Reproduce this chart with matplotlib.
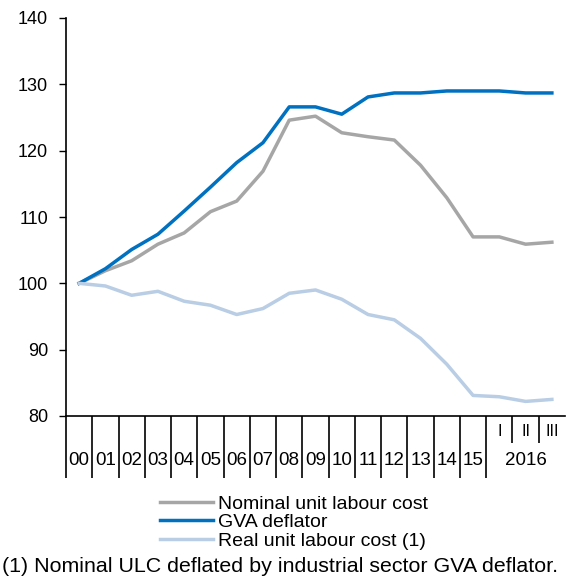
import matplotlib
matplotlib.use("Agg")
import matplotlib.pyplot as plt

plt.rcParams['font.family'] = ['Liberation Sans', 'DejaVu Sans']

# categories: annual 2000-2015, then 2016 Q1-Q3
years = ['00', '01', '02', '03', '04', '05', '06', '07', '08', '09',
         '10', '11', '12', '13', '14', '15']
quarters = ['I', 'II', 'III']
quarter_year = '2016'

nominal_ulc = [100, 101.9, 103.4, 105.9, 107.6, 110.8, 112.4, 116.9, 124.6, 125.2,
               122.7, 122.1, 121.6, 117.8, 112.9, 107.0, 107.0, 105.9, 106.2]
gva_deflator = [100, 102.2, 105.1, 107.4, 110.9, 114.5, 118.2, 121.2, 126.6, 126.6,
                125.5, 128.1, 128.7, 128.7, 129.0, 129.0, 129.0, 128.7, 128.7]
real_ulc = [100, 99.6, 98.2, 98.8, 97.3, 96.7, 95.3, 96.2, 98.5, 99.0,
            97.6, 95.3, 94.5, 91.7, 87.8, 83.1, 82.9, 82.2, 82.5]

fig = plt.figure(figsize=(5.67, 5.82), dpi=100)
ax = fig.add_axes([66/567, 1 - 416/582, 499/567, 398/582])

n = len(years) + len(quarters)
x = list(range(n))
ax.plot(x, nominal_ulc, color='#A6A6A6', lw=2.5, label='Nominal unit labour cost')
ax.plot(x, gva_deflator, color='#0070C0', lw=2.5, label='GVA deflator')
ax.plot(x, real_ulc, color='#B9CDE5', lw=2.5, label='Real unit labour cost (1)')

ax.set_xlim(-0.5, n - 0.5)
ax.set_ylim(80, 140)
ax.set_yticks(range(80, 141, 10))
ax.tick_params(axis='y', direction='out', length=5, width=1, labelsize=13, pad=8)
ax.set_xticks([])
for s in ['top', 'right']:
    ax.spines[s].set_visible(False)
for s in ['left', 'bottom']:
    ax.spines[s].set_linewidth(1.2)

trans = ax.get_xaxis_transform()
# year separators (long) and quarter separators (short)
long_b = [i - 0.5 for i in range(len(years) + 1)]
short_b = [len(years) + j + 0.5 for j in range(len(quarters) - 1)]
ax.vlines(long_b, -0.156, 0, transform=trans, color='black', lw=1.2, clip_on=False)
ax.vlines(short_b, -0.068, 0, transform=trans, color='black', lw=1.2, clip_on=False)

for i, lab in enumerate(years):
    ax.text(i, -0.111, lab, transform=trans, ha='center', va='center', fontsize=13.5)
for j, lab in enumerate(quarters):
    ax.text(len(years) + j, -0.04, lab, transform=trans, ha='center', va='center', fontsize=11.5)
ax.text(len(years) + 1, -0.111, quarter_year, transform=trans, ha='center', va='center', fontsize=13.5)

fig.legend(loc='upper left', bbox_to_anchor=(160/567, 1 - 495/582), frameon=False,
           fontsize=14, handlelength=2.7, handletextpad=0.3, labelspacing=0.05,
           borderpad=0, borderaxespad=0)

fig.text(2/567, 1 - 567/582, '(1) Nominal ULC deflated by industrial sector GVA deflator.',
         fontsize=15.4, va='center', ha='left')

fig.savefig('out.png', dpi=100)
